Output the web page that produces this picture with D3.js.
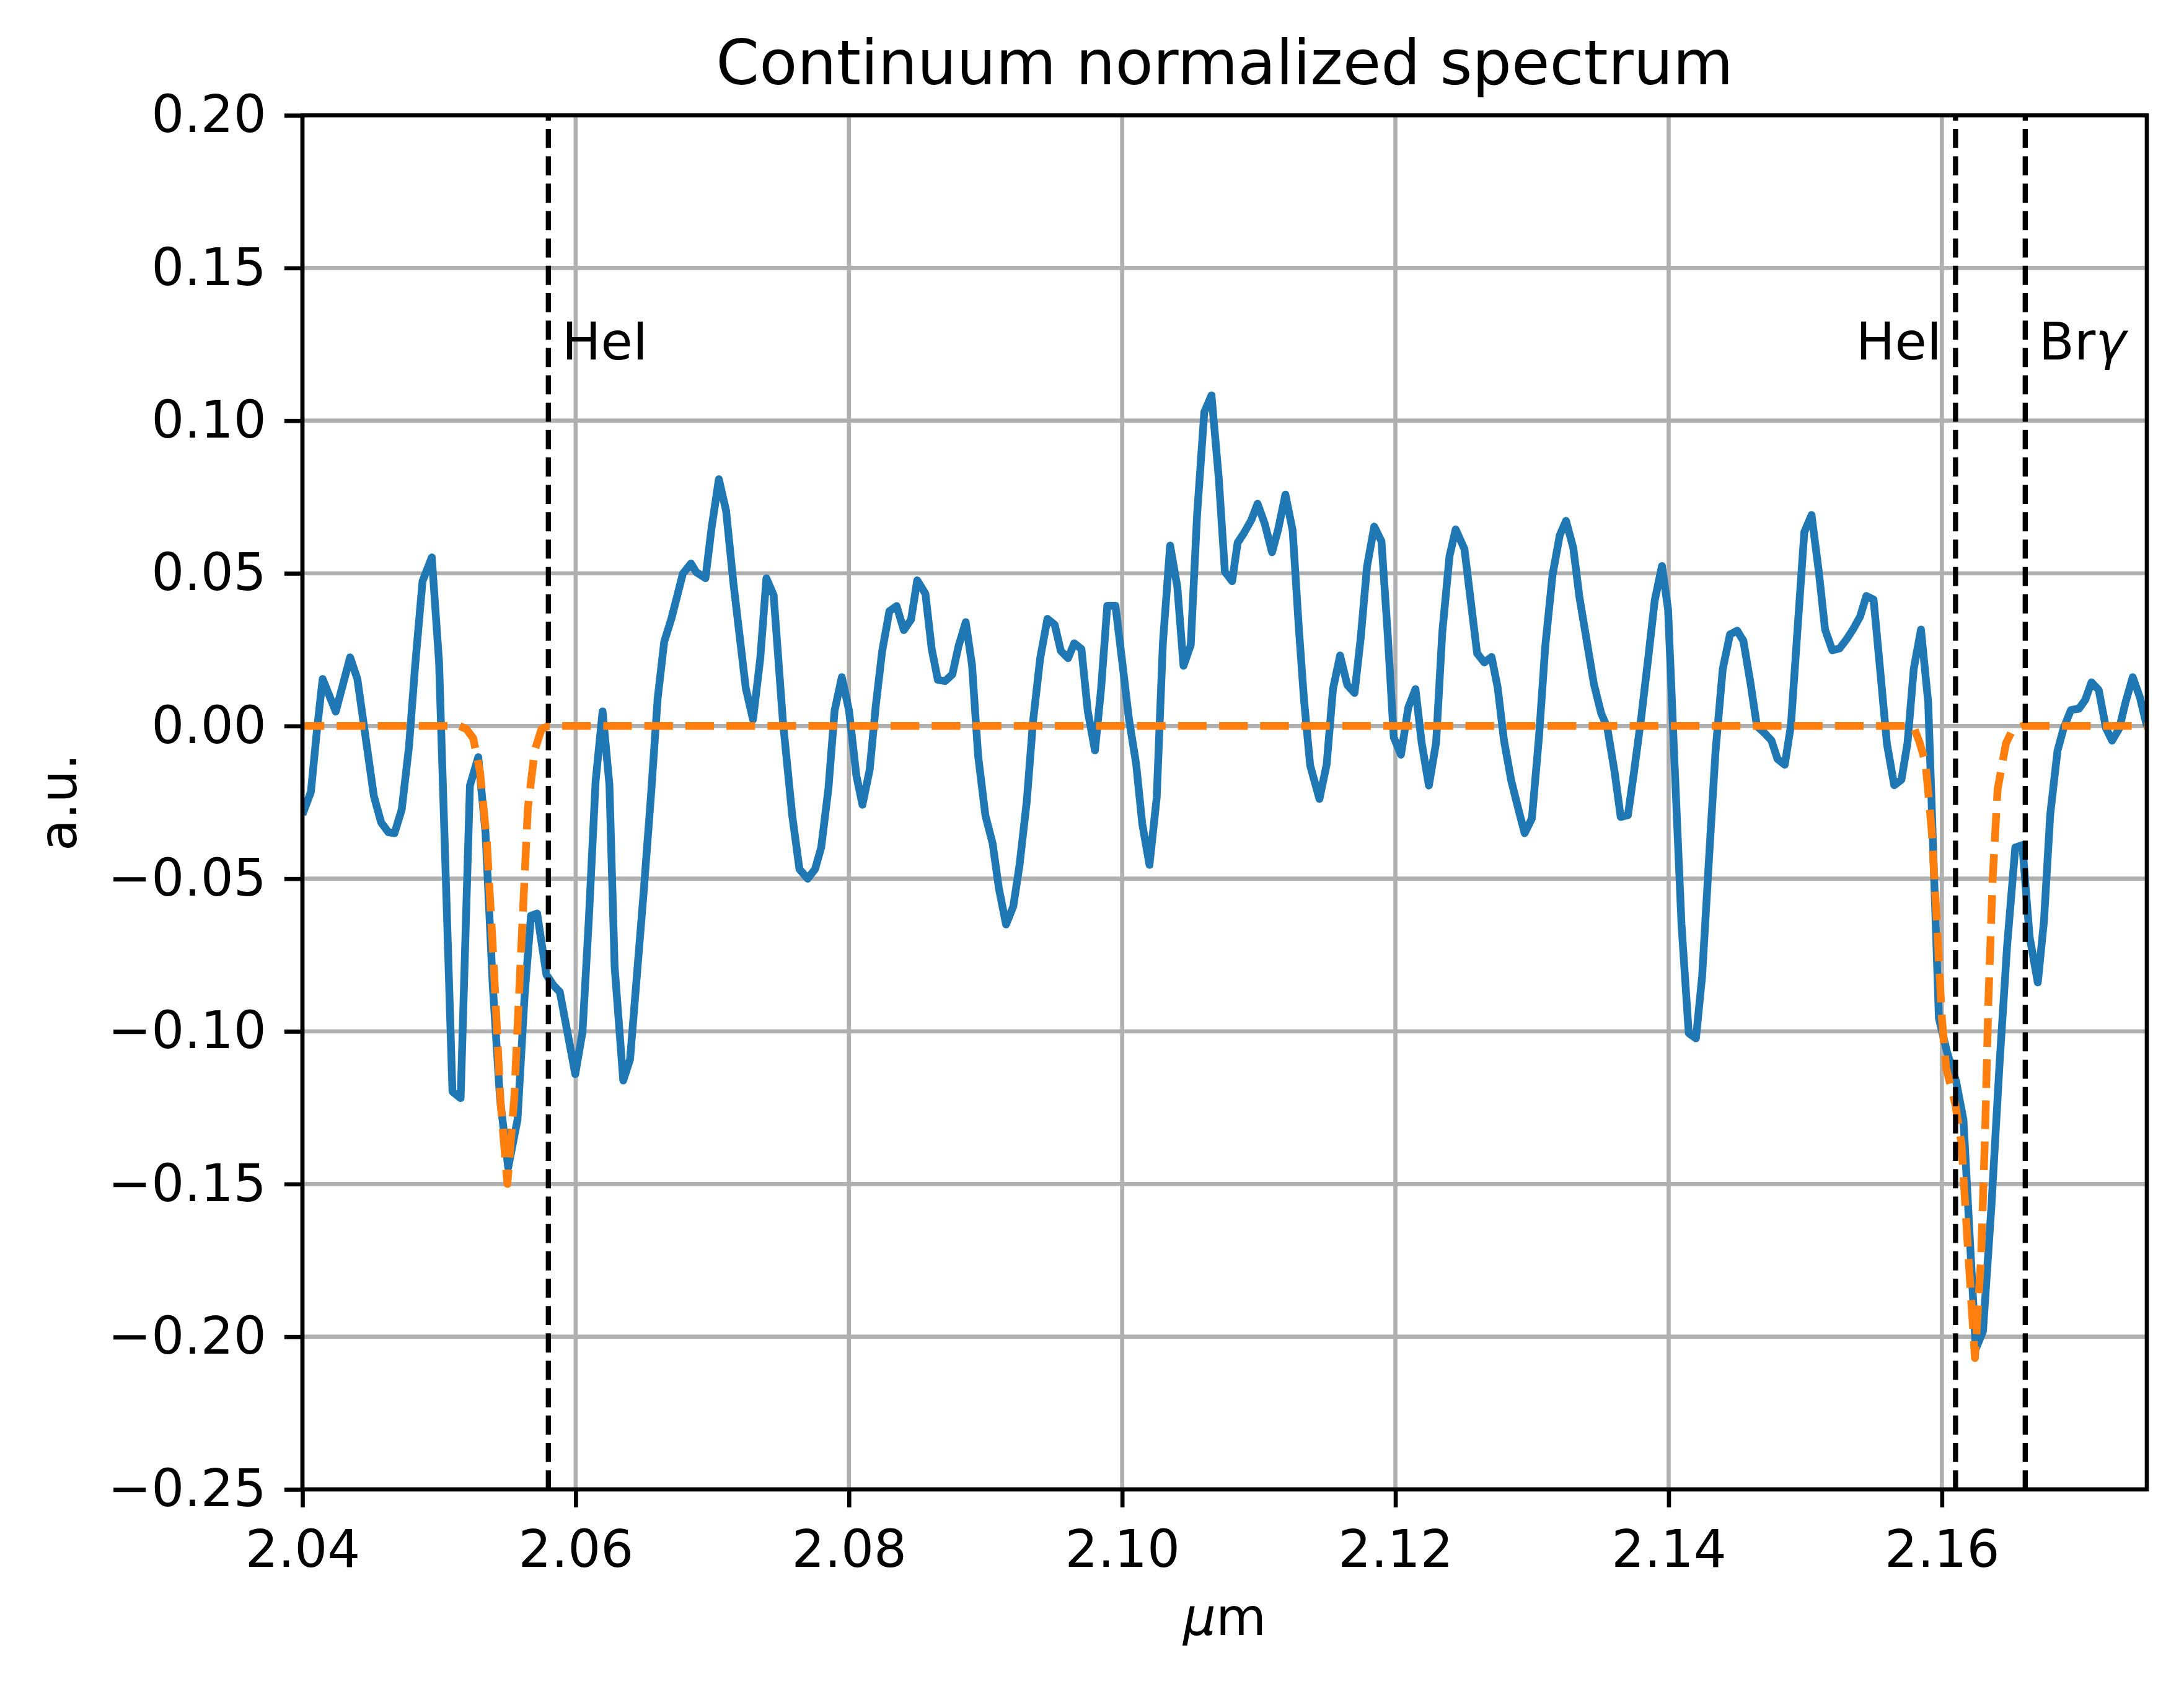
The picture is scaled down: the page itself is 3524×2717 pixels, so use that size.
<!DOCTYPE html>
<html>
<head>
<meta charset="utf-8">
<script src="https://cdn.jsdelivr.net/npm/d3@7"></script>
<style>
  body { margin: 0; background: #ffffff; }
  text { font-family: "DejaVu Sans", sans-serif; fill: #000; }
</style>
</head>
<body>
<div id="chart"></div>
<script>
// Observed spectrum (wavelength in micron, normalized flux)
const wavelength = [
  2.04000, 2.04062, 2.04107, 2.04148, 2.04244, 2.04349, 2.04402, 2.04523, 2.04576, 2.04629,
  2.04674, 2.04727, 2.04780, 2.04826, 2.04879, 2.04947, 2.05000, 2.05098, 2.05158, 2.05226,
  2.05287, 2.05340, 2.05393, 2.05446, 2.05506, 2.05574, 2.05627, 2.05673, 2.05718, 2.05786,
  2.05839, 2.05884, 2.05997, 2.06050, 2.06096, 2.06146, 2.06197, 2.06247, 2.06285, 2.06348,
  2.06398, 2.06496, 2.06550, 2.06600, 2.06648, 2.06701, 2.06784, 2.06844, 2.06882, 2.06950,
  2.06995, 2.07048, 2.07101, 2.07154, 2.07245, 2.07298, 2.07351, 2.07396, 2.07449, 2.07517,
  2.07585, 2.07638, 2.07698, 2.07752, 2.07797, 2.07850, 2.07895, 2.07948, 2.08001, 2.08054,
  2.08099, 2.08152, 2.08197, 2.08243, 2.08296, 2.08349, 2.08402, 2.08455, 2.08500, 2.08560,
  2.08606, 2.08651, 2.08704, 2.08757, 2.08802, 2.08855, 2.08901, 2.08946, 2.08999, 2.09052,
  2.09097, 2.09150, 2.09203, 2.09249, 2.09302, 2.09347, 2.09400, 2.09453, 2.09506, 2.09551,
  2.09604, 2.09649, 2.09702, 2.09748, 2.09801, 2.09846, 2.09891, 2.09951, 2.10004, 2.10049,
  2.10102, 2.10147, 2.10200, 2.10253, 2.10298, 2.10351, 2.10404, 2.10449, 2.10502, 2.10548,
  2.10601, 2.10654, 2.10707, 2.10752, 2.10805, 2.10845, 2.10893, 2.10946, 2.10991, 2.11044,
  2.11097, 2.11142, 2.11195, 2.11248, 2.11294, 2.11331, 2.11376, 2.11444, 2.11497, 2.11543,
  2.11595, 2.11648, 2.11701, 2.11746, 2.11792, 2.11845, 2.11898, 2.11943, 2.11988, 2.12041,
  2.12094, 2.12147, 2.12192, 2.12245, 2.12298, 2.12343, 2.12396, 2.12441, 2.12505, 2.12598,
  2.12651, 2.12704, 2.12749, 2.12795, 2.12848, 2.12901, 2.12946, 2.12999, 2.13052, 2.13097,
  2.13150, 2.13203, 2.13249, 2.13302, 2.13347, 2.13400, 2.13453, 2.13506, 2.13551, 2.13604,
  2.13649, 2.13702, 2.13747, 2.13800, 2.13853, 2.13898, 2.13951, 2.13996, 2.14041, 2.14094,
  2.14147, 2.14200, 2.14245, 2.14298, 2.14343, 2.14396, 2.14449, 2.14502, 2.14547, 2.14600,
  2.14646, 2.14699, 2.14752, 2.14797, 2.14850, 2.14895, 2.14948, 2.14993, 2.15046, 2.15099,
  2.15145, 2.15198, 2.15251, 2.15304, 2.15349, 2.15402, 2.15447, 2.15500, 2.15545, 2.15598,
  2.15651, 2.15704, 2.15749, 2.15794, 2.15847, 2.15900, 2.15978, 2.16036, 2.16105, 2.16158,
  2.16248, 2.16301, 2.16363, 2.16422, 2.16477, 2.16537, 2.16589, 2.16642, 2.16702, 2.16747,
  2.16793, 2.16846, 2.16891, 2.16944, 2.17004, 2.17049, 2.17095, 2.17148, 2.17201, 2.17246,
  2.17299, 2.17344, 2.17397, 2.17450, 2.17500
];
const flux = [
  -0.0290, -0.0216, -0.0010, 0.0154, 0.0047, 0.0225, 0.0154, -0.0230, -0.0316, -0.0348,
  -0.0351, -0.0273, -0.0067, 0.0203, 0.0474, 0.0552, 0.0210, -0.1197, -0.1219, -0.0195,
  -0.0102, -0.0350, -0.0850, -0.1220, -0.1446, -0.1290, -0.0877, -0.0621, -0.0614, -0.0815,
  -0.0850, -0.0871, -0.1140, -0.1002, -0.0636, -0.0180, 0.0048, -0.0193, -0.0788, -0.1161,
  -0.1092, -0.0553, -0.0235, 0.0090, 0.0276, 0.0352, 0.0498, 0.0532, 0.0504, 0.0484,
  0.0650, 0.0808, 0.0705, 0.0470, 0.0124, 0.0021, 0.0221, 0.0484, 0.0428, 0.0015,
  -0.0293, -0.0469, -0.0500, -0.0469, -0.0398, -0.0205, 0.0050, 0.0160, 0.0050, -0.0161,
  -0.0258, -0.0143, 0.0068, 0.0244, 0.0376, 0.0393, 0.0314, 0.0349, 0.0477, 0.0433,
  0.0252, 0.0151, 0.0147, 0.0169, 0.0261, 0.0340, 0.0200, -0.0099, -0.0293, -0.0385,
  -0.0530, -0.0650, -0.0591, -0.0455, -0.0246, 0.0012, 0.0222, 0.0351, 0.0332, 0.0246,
  0.0222, 0.0271, 0.0252, 0.0049, -0.0080, 0.0123, 0.0394, 0.0394, 0.0197, 0.0025,
  -0.0123, -0.0320, -0.0455, -0.0234, 0.0271, 0.0591, 0.0455, 0.0197, 0.0265, 0.0689,
  0.1028, 0.1083, 0.0812, 0.0505, 0.0474, 0.0600, 0.0633, 0.0675, 0.0728, 0.0662,
  0.0569, 0.0644, 0.0758, 0.0640, 0.0315, 0.0086, -0.0129, -0.0239, -0.0125, 0.0121,
  0.0231, 0.0134, 0.0108, 0.0288, 0.0521, 0.0653, 0.0605, 0.0306, -0.0037, -0.0094,
  0.0060, 0.0121, -0.0054, -0.0195, -0.0054, 0.0306, 0.0556, 0.0644, 0.0580, 0.0238,
  0.0208, 0.0226, 0.0125, -0.0048, -0.0179, -0.0274, -0.0351, -0.0303, -0.0030, 0.0262,
  0.0494, 0.0625, 0.0672, 0.0583, 0.0422, 0.0280, 0.0137, 0.0042, -0.0006, -0.0149,
  -0.0298, -0.0292, -0.0149, 0.0030, 0.0232, 0.0411, 0.0524, 0.0381, -0.0101, -0.0649,
  -0.1006, -0.1023, -0.0820, -0.0415, -0.0084, 0.0187, 0.0300, 0.0312, 0.0279, 0.0138,
  0.0000, -0.0022, -0.0047, -0.0108, -0.0127, 0.0002, 0.0347, 0.0635, 0.0691, 0.0506,
  0.0316, 0.0248, 0.0254, 0.0285, 0.0316, 0.0359, 0.0426, 0.0414, 0.0199, -0.0059,
  -0.0194, -0.0176, -0.0053, 0.0187, 0.0316, 0.0076, -0.0957, -0.1065, -0.1165, -0.1290,
  -0.2040, -0.1982, -0.1570, -0.1107, -0.0723, -0.0398, -0.0390, -0.0690, -0.0840, -0.0640,
  -0.0290, -0.0082, -0.0007, 0.0052, 0.0057, 0.0085, 0.0143, 0.0118, -0.0007, -0.0048,
  -0.0007, 0.0077, 0.0160, 0.0093, 0.0000
];

// Fitted line model (dashed orange)
const modelWavelength = [
  2.04000, 2.05150, 2.05200, 2.05250, 2.05300, 2.05350, 2.05400, 2.05450, 2.05500, 2.05550,
  2.05600, 2.05650, 2.05700, 2.05750, 2.05800, 2.15790, 2.15834, 2.15880, 2.15925, 2.15963,
  2.16000, 2.16031, 2.16099, 2.16144, 2.16189, 2.16242, 2.16287, 2.16317, 2.16340, 2.16371,
  2.16408, 2.16469, 2.16514, 2.16590, 2.17500
];
const modelFlux = [
  0.0000, 0.0000, -0.0010, -0.0040, -0.0150, -0.0380, -0.0780, -0.1230, -0.1500, -0.1220,
  -0.0740, -0.0270, -0.0080, -0.0010, 0.0000, 0.0000, -0.0050, -0.0120, -0.0340, -0.0640,
  -0.0957, -0.1120, -0.1240, -0.1370, -0.1700, -0.2070, -0.1740, -0.1320, -0.0907, -0.0507,
  -0.0207, -0.0057, -0.0015, 0.0000, 0.0000
];

// Marked spectral lines
const lineWavelengths = [2.0580, 2.1610, 2.1661];
const lineNames = ["HeI", "HeI", "Br"];
const lineGreek = ["", "", "γ"];
const lineLabelSide = ["right", "left", "right"];

const xTicks = [2.04, 2.06, 2.08, 2.10, 2.12, 2.14, 2.16];
const yTicks = [-0.25, -0.20, -0.15, -0.10, -0.05, 0.00, 0.05, 0.10, 0.15, 0.20];

// Layout (600 dpi matplotlib look)
const width = 3524, height = 2717;
const margin = { left: 488, top: 186 };
const plotW = 2976, plotH = 2217;
const pt = 600 / 72;
const tickFont = 10 * pt;

const svg = d3.select("#chart")
    .append("svg")
    .attr("width", width)
    .attr("height", height)
    .style("display", "block");

svg.append("rect").attr("width", width).attr("height", height).attr("fill", "#fff");

const g = svg.append("g")
    .attr("transform", `translate(${margin.left},${margin.top})`);

const x = d3.scaleLinear().domain([2.04, 2.175]).range([0, plotW]);
const y = d3.scaleLinear().domain([-0.25, 0.20]).range([plotH, 0]);

g.append("clipPath").attr("id", "plotClip")
    .append("rect").attr("width", plotW).attr("height", plotH);

// Grid
const grid = g.append("g").attr("stroke", "#b0b0b0").attr("stroke-width", 0.8 * pt);
grid.selectAll(".vgrid").data(xTicks).join("line")
    .attr("x1", d => x(d)).attr("x2", d => x(d))
    .attr("y1", 0).attr("y2", plotH);
grid.selectAll(".hgrid").data(yTicks).join("line")
    .attr("x1", 0).attr("x2", plotW)
    .attr("y1", d => y(d)).attr("y2", d => y(d));

const plotArea = g.append("g").attr("clip-path", "url(#plotClip)");

// Spectrum
const spectrumLine = d3.line()
    .x(i => x(wavelength[i]))
    .y(i => y(flux[i]));

plotArea.append("path")
    .attr("d", spectrumLine(d3.range(wavelength.length)))
    .attr("fill", "none")
    .attr("stroke", "#1f77b4")
    .attr("stroke-width", 1.5 * pt)
    .attr("stroke-linejoin", "round")
    .attr("stroke-linecap", "butt");

// Model
const modelLine = d3.line()
    .x(i => x(modelWavelength[i]))
    .y(i => y(modelFlux[i]));

plotArea.append("path")
    .attr("d", modelLine(d3.range(modelWavelength.length)))
    .attr("fill", "none")
    .attr("stroke", "#ff7f0e")
    .attr("stroke-width", 1.5 * pt)
    .attr("stroke-dasharray", `${5.55 * pt} ${2.4 * pt}`)
    .attr("stroke-dashoffset", 11)
    .attr("stroke-linejoin", "round");

// Vertical line markers
plotArea.selectAll(".marker").data(lineWavelengths).join("line")
    .attr("x1", d => x(d)).attr("x2", d => x(d))
    .attr("y1", plotH).attr("y2", 0)
    .attr("stroke", "#000")
    .attr("stroke-width", 1 * pt)
    .attr("stroke-dasharray", `${3.7 * pt} ${1.6 * pt}`);

// Marker labels
const labels = g.selectAll(".lineLabel").data(lineWavelengths).join("text")
    .attr("x", (d, i) => x(lineLabelSide[i] === "right" ? d + 0.001 : d - 0.001))
    .attr("y", y(0.12))
    .attr("text-anchor", (d, i) => lineLabelSide[i] === "right" ? "start" : "end")
    .attr("font-size", tickFont);
labels.append("tspan").text((d, i) => lineNames[i]);
labels.append("tspan").attr("font-style", "italic").text((d, i) => lineGreek[i]);

// Spines
g.append("rect")
    .attr("width", plotW).attr("height", plotH)
    .attr("fill", "none")
    .attr("stroke", "#000")
    .attr("stroke-width", 0.8 * pt);

// Axes
const fmt = d3.format(".2f");
const xAxis = g.append("g")
    .attr("transform", `translate(0,${plotH})`)
    .call(d3.axisBottom(x).tickValues(xTicks).tickFormat(fmt)
        .tickSizeInner(3.5 * pt).tickSizeOuter(0).tickPadding(3.5 * pt + 7));
const yAxis = g.append("g")
    .call(d3.axisLeft(y).tickValues(yTicks).tickFormat(fmt)
        .tickSizeInner(3.5 * pt).tickSizeOuter(0).tickPadding(3.5 * pt));

[xAxis, yAxis].forEach(ax => {
    ax.select(".domain").remove();
    ax.selectAll(".tick line").attr("stroke", "#000").attr("stroke-width", 0.8 * pt);
    ax.selectAll(".tick text")
        .attr("font-size", tickFont)
        .attr("font-family", "DejaVu Sans")
        .attr("fill", "#000");
});

// Title and axis labels
g.append("text")
    .attr("x", plotW / 2)
    .attr("y", -6 * pt)
    .attr("text-anchor", "middle")
    .attr("font-size", 12 * pt)
    .text("Continuum normalized spectrum");

const xLabel = g.append("text")
    .attr("x", plotW / 2)
    .attr("y", plotH + 235)
    .attr("text-anchor", "middle")
    .attr("font-size", tickFont);
xLabel.append("tspan").attr("font-style", "italic").text("μ");
xLabel.append("tspan").text("m");

g.append("text")
    .attr("transform", `translate(${123 - margin.left},${plotH / 2}) rotate(-90)`)
    .attr("text-anchor", "middle")
    .attr("font-size", tickFont)
    .text("a.u.");
</script>
</body>
</html>
